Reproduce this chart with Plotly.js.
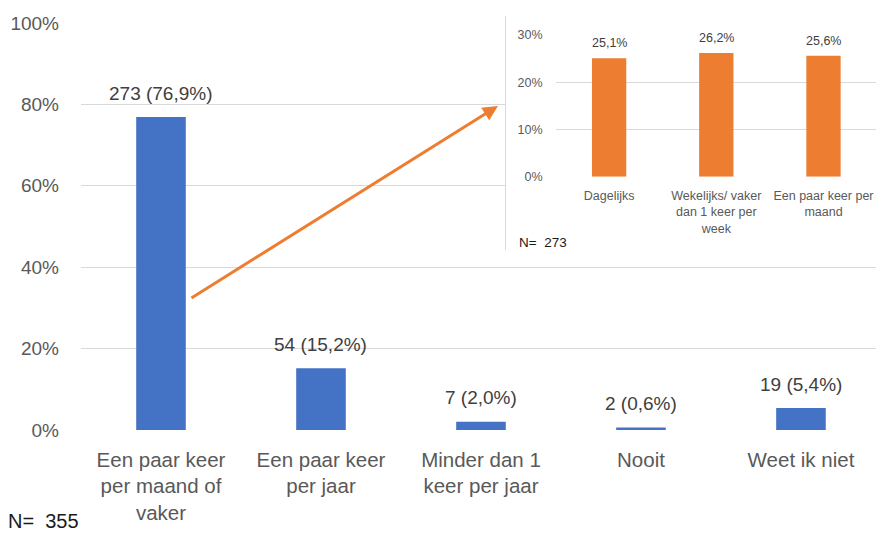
<!DOCTYPE html>
<html>
<head>
<meta charset="utf-8">
<script src="https://cdn.plot.ly/plotly-3.0.1.min.js"></script>
<style>html,body{margin:0;padding:0;background:#fff;}#chart{width:876px;height:533px;}</style>
</head>
<body>
<div id="chart"></div>
<script>
// ---- data ----
var mainCategories = ["Een paar keer<br>per maand of<br>vaker", "Een paar keer<br>per jaar", "Minder dan 1<br>keer per jaar", "Nooit", "Weet ik niet"];
var mainCounts = [273, 54, 7, 2, 19];
var mainShares = [0.769, 0.152, 0.020, 0.006, 0.054];
var mainN = 355;

var insetCategories = ["Dagelijks", "Wekelijks/ vaker<br>dan 1 keer per<br>week", "Een paar keer per<br>maand"];
var insetShares = [0.251, 0.262, 0.256];
var insetN = 273;

var mainTicks = [0, 0.2, 0.4, 0.6, 0.8, 1.0];
var insetTicks = [0, 0.1, 0.2, 0.3];

// ---- helpers ----
function pctText(v) { return (v * 100).toFixed(1).replace('.', ',') + '%'; }
var FONT = 'Liberation Sans, Arial, sans-serif';
var nbsp = '\u00a0';

var mainIdx = mainCategories.map(function (c, i) { return i; });
var insetIdx = insetCategories.map(function (c, i) { return i; });

var traces = [
  {
    type: 'bar', x: mainIdx, y: mainShares, xaxis: 'x', yaxis: 'y',
    marker: { color: '#4472C4' }, width: 0.31, hoverinfo: 'skip', showlegend: false
  },
  {
    type: 'scatter', x: [], y: [], xaxis: 'x2', yaxis: 'y2',
    hoverinfo: 'skip', showlegend: false
  },
  {
    type: 'bar', x: insetIdx, y: insetShares, xaxis: 'x3', yaxis: 'y3',
    marker: { color: '#ED7D31' }, width: 0.32, hoverinfo: 'skip', showlegend: false
  }
];

var annotations = [];
mainIdx.forEach(function (i) {
  annotations.push({
    xref: 'x', yref: 'y', x: i, y: mainShares[i], yshift: 24,
    text: mainCounts[i] + ' (' + pctText(mainShares[i]) + ')',
    showarrow: false, xanchor: 'center', yanchor: 'middle',
    font: { family: FONT, size: 19, color: '#404040' }
  });
});
insetIdx.forEach(function (i) {
  annotations.push({
    xref: 'x3', yref: 'y3', x: i, y: insetShares[i], yshift: 15,
    text: pctText(insetShares[i]),
    showarrow: false, xanchor: 'center', yanchor: 'middle',
    font: { family: FONT, size: 12.5, color: '#404040' }
  });
});
annotations.push({
  xref: 'paper', yref: 'paper', x: -0.0943, y: -0.2116,
  text: 'N=' + nbsp + nbsp + mainN, showarrow: false, xanchor: 'left', yanchor: 'middle',
  font: { family: FONT, size: 20, color: '#1a1a1a' }
});
annotations.push({
  xref: 'paper', yref: 'paper', x: 0.5485, y: 0.4349,
  text: 'N=' + nbsp + nbsp + insetN, showarrow: false, xanchor: 'left', yanchor: 'middle',
  font: { family: FONT, size: 13.5, color: '#1a1a1a' }
});
// arrow pointing from the first bar to the inset
annotations.push({
  xref: 'x', yref: 'y', axref: 'x', ayref: 'y',
  x: 2.106, y: 0.796, ax: 0.181, ay: 0.322,
  text: '', showarrow: true, arrowhead: 2, arrowsize: 1, arrowwidth: 3,
  arrowcolor: '#ED7D31', standoff: 0, startstandoff: 0
});

var layout = {
  width: 876, height: 533,
  margin: { l: 81, r: 0, t: 0, b: 103, pad: 0 },
  paper_bgcolor: '#ffffff', plot_bgcolor: '#ffffff',
  separators: ',.',
  font: { family: FONT, color: '#595959' },
  showlegend: false,
  xaxis: {
    domain: [0, 1], anchor: 'y', range: [-0.5, 4.469],
    tickmode: 'array', tickvals: mainIdx, ticktext: mainCategories,
    showgrid: false, zeroline: false, showline: false, ticks: '',
    ticklabelstandoff: 15, ticklabeloverflow: 'allow',
    tickfont: { family: FONT, size: 20.5, color: '#595959' }, fixedrange: true
  },
  yaxis: {
    domain: [0, 0.94651], anchor: 'x', range: [0, 1],
    tickmode: 'array', tickvals: mainTicks, tickformat: '.0%',
    showgrid: true, gridcolor: '#d9d9d9', gridwidth: 1, zeroline: false, showline: false,
    ticks: '', ticklabelstandoff: 21,
    tickfont: { family: FONT, size: 19, color: '#595959' }, fixedrange: true
  },
  xaxis2: {
    domain: [0.5346, 1], anchor: 'y2', range: [0, 1], visible: false, fixedrange: true
  },
  yaxis2: {
    domain: [0.4186, 0.9628], anchor: 'x2', range: [0, 1],
    showline: true, linecolor: '#d9d9d9', linewidth: 1, showgrid: false, zeroline: false,
    showticklabels: false, ticks: '', fixedrange: true
  },
  xaxis3: {
    domain: [0.5969, 1], anchor: 'y3', range: [-0.5, 2.49],
    tickmode: 'array', tickvals: insetIdx, ticktext: insetCategories,
    showgrid: false, zeroline: false, showline: false, ticks: '',
    ticklabelstandoff: 10, ticklabeloverflow: 'allow',
    tickfont: { family: FONT, size: 12.5, color: '#595959' }, fixedrange: true
  },
  yaxis3: {
    domain: [0.5891, 0.9186], anchor: 'x3', range: [0, 0.3],
    tickmode: 'array', tickvals: insetTicks, tickformat: '.0%',
    showgrid: true, gridcolor: '#d9d9d9', gridwidth: 1, zeroline: false, showline: false,
    ticks: '', ticklabelstandoff: 12,
    tickfont: { family: FONT, size: 12.5, color: '#595959' }, fixedrange: true
  },
  annotations: annotations
};

Plotly.newPlot('chart', traces, layout, { staticPlot: true, displayModeBar: false });
</script>
</body>
</html>
